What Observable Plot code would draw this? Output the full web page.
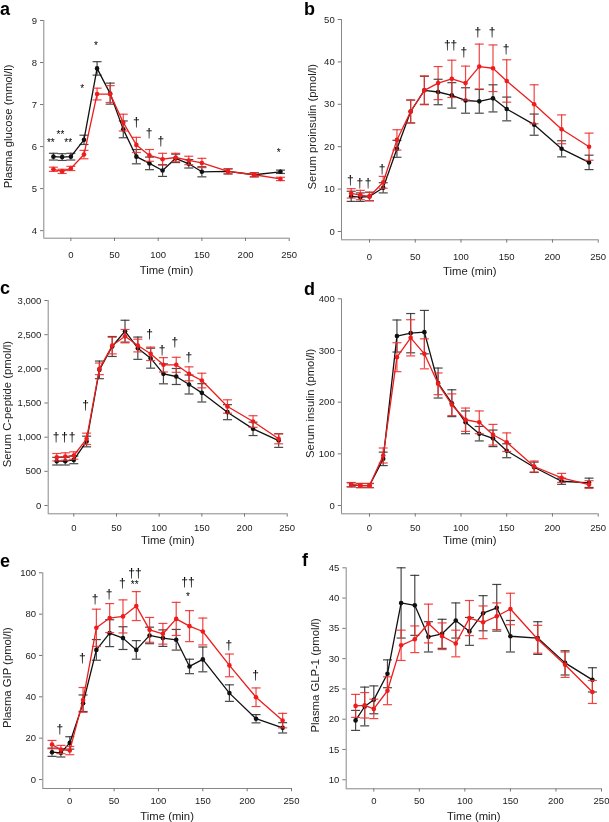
<!DOCTYPE html>
<html>
<head>
<meta charset="utf-8">
<script src="https://cdn.jsdelivr.net/npm/d3@7"></script>
<script src="https://cdn.jsdelivr.net/npm/@observablehq/plot@0.6"></script>
<style>
  body { margin: 0; background: #fff; }
  #fig { position: relative; width: 609px; height: 822px; font-family: "Liberation Sans", Arial, sans-serif; background: #fff; overflow: hidden; }
  .letter { position: absolute; font-weight: bold; font-size: 18px; line-height: 1; color: #000; }
  svg { will-change: transform; }
</style>
</head>
<body>
<div id="fig"></div>
<script>
// ---- time points (min) ----
const time = [-20, -10, 0, 15, 30, 45, 60, 75, 90, 105, 120, 135, 150, 180, 210, 240];
const xTicks = [0, 50, 100, 150, 200, 250];

// ---- a: plasma glucose (mmol/l) ----
const glucoseBlack    = [5.76, 5.75, 5.76, 6.16, 7.86, 7.26, 6.41, 5.76, 5.60, 5.43, 5.72, 5.59, 5.40, 5.41, 5.33, 5.40];
const glucoseBlackErr = [0.08, 0.08, 0.08, 0.11, 0.16, 0.25, 0.20, 0.17, 0.15, 0.14, 0.10, 0.10, 0.12, 0.06, 0.05, 0.04];
const glucoseRed      = [5.46, 5.41, 5.48, 5.81, 7.25, 7.25, 6.57, 6.04, 5.79, 5.70, 5.74, 5.67, 5.61, 5.41, 5.33, 5.23];
const glucoseRedErr   = [0.05, 0.05, 0.05, 0.10, 0.14, 0.20, 0.20, 0.18, 0.14, 0.14, 0.10, 0.10, 0.11, 0.06, 0.05, 0.04];
const glucoseTicks = [4, 5, 6, 7, 8, 9];
const glucoseMarks = [
  {t: -23, y: 6.15, label: "**"}, {t: -12, y: 6.35, label: "**"}, {t: -3, y: 6.15, label: "**"},
  {t: 13, y: 7.45, label: "*"}, {t: 28.6, y: 8.46, label: "*"},
  {t: 75, y: 6.57, label: "†"}, {t: 89.6, y: 6.33, label: "†"}, {t: 103, y: 6.13, label: "†"},
  {t: 238, y: 5.93, label: "*"}
];

// ---- b: serum proinsulin (pmol/l) ----
const proinsulinBlack    = [8.3, 8.1, 8.25, 10.3, 19.5, 28.3, 33.3, 32.9, 32.1, 30.9, 30.7, 31.4, 28.9, 25.2, 19.5, 16.3];
const proinsulinBlackErr = [1.2, 1.0, 1.0, 1.2, 2.0, 2.7, 3.3, 3.0, 3.0, 3.0, 2.8, 3.2, 2.8, 2.5, 1.9, 1.7];
const proinsulinRed      = [9.0, 8.6, 8.25, 11.6, 21.6, 28.3, 33.3, 35.0, 36.0, 35.0, 38.9, 38.5, 35.5, 30.0, 24.1, 20.0];
const proinsulinRedErr   = [1.1, 1.1, 1.0, 1.4, 2.4, 2.7, 3.4, 3.9, 4.4, 4.0, 5.3, 5.5, 5.0, 4.6, 3.4, 3.2];
const proinsulinTicks = [0, 10, 20, 30, 40, 50];
const proinsulinMarks = [
  {t: -20.8, y: 12.0, label: "†"}, {t: -10.6, y: 11.4, label: "†"}, {t: -1.5, y: 11.4, label: "†"},
  {t: 13.8, y: 14.8, label: "†"}, {t: 88.6, y: 44.0, label: "††"}, {t: 103, y: 42.3, label: "†"},
  {t: 118.4, y: 47.0, label: "†"}, {t: 134.1, y: 47.0, label: "†"}, {t: 149.4, y: 43.1, label: "†"}
];

// ---- c: serum C-peptide (pmol/l) ----
const cpeptideBlack    = [649, 649, 668, 937, 1985, 2327, 2551, 2302, 2156, 1927, 1888, 1771, 1649, 1366, 1122, 951];
const cpeptideBlackErr = [56, 56, 56, 78, 129, 146, 160, 163, 146, 146, 117, 139, 134, 110, 98, 100];
const cpeptideRed      = [707, 717, 732, 976, 2000, 2341, 2478, 2341, 2220, 2059, 2059, 1927, 1829, 1449, 1229, 976];
const cpeptideRedErr   = [54, 54, 54, 83, 85, 122, 98, 93, 98, 105, 110, 102, 107, 98, 85, 73];
const cpeptideTicks = [0, 500, 1000, 1500, 2000, 2500, 3000];
const cpeptideMarks = [
  {t: -20.7, y: 1000, label: "†"}, {t: -10.9, y: 1000, label: "†"}, {t: -2, y: 1000, label: "†"},
  {t: 13.7, y: 1473, label: "†"}, {t: 88.7, y: 2512, label: "†"}, {t: 103.5, y: 2278, label: "†"},
  {t: 118.4, y: 2390, label: "†"}, {t: 134.8, y: 2171, label: "†"}
];

// ---- d: serum insulin (pmol/l) ----
const insulinBlack    = [40, 38.7, 38.7, 90.3, 328, 333.5, 335.5, 237, 198, 161, 139, 130, 106, 74, 47, 44];
const insulinBlackErr = [4, 4, 4, 13, 31, 38, 42, 29, 26, 22, 14, 16, 13.5, 10, 6, 9];
const insulinRed      = [40.6, 38.7, 38.7, 96.8, 287, 324.5, 293.5, 235.5, 195, 166, 161, 137, 122.5, 75.5, 53.5, 40.6];
const insulinRedErr   = [4, 4, 4, 14.5, 28, 35, 29, 21, 21, 22.6, 22, 20, 18, 10.6, 8.7, 7.4];
const insulinTicks = [0, 100, 200, 300, 400];
const insulinMarks = [];

// ---- e: plasma GIP (pmol/l) ----
const gipBlack    = [13.2, 12.9, 17.7, 36.9, 62.7, 70.8, 68.4, 62.7, 69.7, 68.4, 67.6, 54.7, 58.1, 41.8, 29.4, 25.0];
const gipBlackErr = [2, 2, 3, 4, 5, 6.5, 5.5, 4.5, 4, 4, 5, 3.5, 6, 4, 2, 2.5];
const gipRed      = [16.9, 14.5, 14.0, 38.5, 73.4, 78.1, 78.9, 83.9, 72.4, 70.5, 77.7, 74.2, 71.6, 55.2, 39.8, 28.5];
const gipRedErr   = [2, 2, 2, 6, 9, 7, 8, 7, 6, 5, 8, 7.5, 6.5, 5.5, 4.5, 3.5];
const gipTicks = [0, 20, 40, 60, 80, 100];
const gipMarks = [
  {t: -11.3, y: 24.5, label: "†"}, {t: 14.3, y: 58.9, label: "†"}, {t: 28.5, y: 87.4, label: "†"},
  {t: 44.3, y: 89.5, label: "†"}, {t: 59.3, y: 95, label: "†"}, {t: 73.6, y: 100, label: "††"},
  {t: 73.2, y: 95.5, label: "**"}, {t: 133.3, y: 95.5, label: "††"}, {t: 133.3, y: 89.8, label: "*"},
  {t: 179.4, y: 64.8, label: "†"}, {t: 209.5, y: 50.3, label: "†"}
];

// ---- f: plasma GLP-1 (pmol/l) ----
const glp1Black    = [19.8, 22.1, 23.2, 27.5, 39.2, 38.8, 33.6, 34.1, 36.3, 34.5, 37.5, 38.4, 33.7, 33.4, 29.3, 26.5];
const glp1BlackErr = [1.65, 3.2, 2.3, 2.3, 5.8, 4.95, 2.5, 2.4, 2.9, 2.3, 2.9, 3.85, 2.6, 2.7, 2.0, 2.0];
const glp1Red      = [22.2, 22.3, 21.7, 24.7, 32.2, 33.2, 35.8, 33.7, 32.5, 36.7, 36.0, 37.0, 38.2, 33.2, 29.0, 24.5];
const glp1RedErr   = [1.9, 2.1, 1.6, 2.3, 2.5, 2.2, 3.2, 2.2, 2.2, 2.9, 2.7, 2.2, 2.6, 2.3, 2.1, 1.9];
const glp1Ticks = [10, 15, 20, 25, 30, 35, 40, 45];
const glp1Marks = [];

// ---- panel layout ----
const panels = [
  {letter: "a", ylabel: "Plasma glucose (mmol/l)", black: glucoseBlack, blackErr: glucoseBlackErr, red: glucoseRed, redErr: glucoseRedErr,
   yTicks: glucoseTicks, marks: glucoseMarks, fmt: d3.format("d"),
   left: 0, top: 0, width: 300, height: 270, mL: 43.3, mR: 11.3, mT: 20, mB: 32.3,
   xDomain: [-31, 250], yDomain: [3.82, 9], xPad: 10, titleOff: 32, ylabX: 7.5, letterPos: [0, 0]},
  {letter: "b", ylabel: "Serum proinsulin (pmol/l)", black: proinsulinBlack, blackErr: proinsulinBlackErr, red: proinsulinRed, redErr: proinsulinRedErr,
   yTicks: proinsulinTicks, marks: proinsulinMarks, fmt: d3.format("d"),
   left: 300, top: 0, width: 309, height: 270, mL: 41, mR: 11.3, mT: 19, mB: 30.7,
   xDomain: [-30.6, 250], yDomain: [-1.96, 50], xPad: 10, titleOff: 32, ylabX: 12, letterPos: [304, 0]},
  {letter: "c", ylabel: "Serum C-peptide (pmol/l)", black: cpeptideBlack, blackErr: cpeptideBlackErr, red: cpeptideRed, redErr: cpeptideRedErr,
   yTicks: cpeptideTicks, marks: cpeptideMarks, fmt: d3.format(","),
   left: 0, top: 270, width: 300, height: 270, mL: 47.7, mR: 13.3, mT: 30, mB: 26.7,
   xDomain: [-30, 250], yDomain: [-121, 3000], xPad: 6.7, titleOff: 27, ylabX: 7, letterPos: [0, 279]},
  {letter: "d", ylabel: "Serum insulin (pmol/l)", black: insulinBlack, blackErr: insulinBlackErr, red: insulinRed, redErr: insulinRedErr,
   yTicks: insulinTicks, marks: insulinMarks, fmt: d3.format("d"),
   left: 300, top: 270, width: 309, height: 270, mL: 41, mR: 11.3, mT: 28.3, mB: 26.7,
   xDomain: [-30.6, 250], yDomain: [-16, 400], xPad: 6.7, titleOff: 27, ylabX: 10, letterPos: [304, 280]},
  {letter: "e", ylabel: "Plasma GIP (pmol/l)", black: gipBlack, blackErr: gipBlackErr, red: gipRed, redErr: gipRedErr,
   yTicks: gipTicks, marks: gipMarks, fmt: d3.format("d"),
   left: 0, top: 540, width: 300, height: 282, mL: 42.3, mR: 9, mT: 32.3, mB: 34,
   xDomain: [-30.4, 250], yDomain: [-4.35, 100], xPad: 5.4, titleOff: 28, ylabX: 7, letterPos: [0, 552]},
  {letter: "f", ylabel: "Plasma GLP-1 (pmol/l)", black: glp1Black, blackErr: glp1BlackErr, red: glp1Red, redErr: glp1RedErr,
   yTicks: glp1Ticks, marks: glp1Marks, fmt: d3.format("d"),
   left: 300, top: 540, width: 309, height: 282, mL: 45.7, mR: 8, mT: 27.3, mB: 33.7,
   xDomain: [-30.3, 250], yDomain: [8.51, 45], xPad: 5.4, titleOff: 28, ylabX: 15, letterPos: [302, 551]}
];

const BLACK = "#111111", BLACK_ERR = "#333333";
const RED = "#ee1c1c", RED_ERR = "#f03030";
const capSymbol = { draw(ctx) { ctx.moveTo(-4.5, 0); ctx.lineTo(4.5, 0); } };

function series(vals, errs, color, ecolor) {
  const d = time.map((t, i) => ({t, v: vals[i], e: errs[i]}));
  return [
    Plot.ruleX(d, {x: "t", y1: r => r.v - r.e, y2: r => r.v + r.e, stroke: ecolor, strokeWidth: 1.2, strokeOpacity: 0.9}),
    Plot.dot(d, {x: "t", y: r => r.v + r.e, symbol: capSymbol, stroke: ecolor, fill: "none", strokeWidth: 1.2, strokeOpacity: 0.9}),
    Plot.dot(d, {x: "t", y: r => r.v - r.e, symbol: capSymbol, stroke: ecolor, fill: "none", strokeWidth: 1.2, strokeOpacity: 0.9}),
    Plot.line(d, {x: "t", y: "v", stroke: color, strokeWidth: 1.3}),
    Plot.dot(d, {x: "t", y: "v", fill: color, r: 2.3})
  ];
}

const fig = document.getElementById("fig");
for (const p of panels) {
  const daggers = p.marks.filter(m => !m.label.includes("*"));
  const stars = p.marks.filter(m => m.label.includes("*"));
  const svg = Plot.plot({
    width: p.width,
    height: p.height,
    marginLeft: p.mL, marginRight: p.mR, marginTop: p.mT, marginBottom: p.mB,
    x: {domain: p.xDomain, label: null},
    y: {domain: p.yDomain, label: null},
    style: {fontFamily: "'Liberation Sans', Arial, sans-serif", fontSize: "9.5px", background: "transparent", overflow: "visible", color: "#222"},
    marks: [
      Plot.ruleX([p.xDomain[0]], {y1: p.yDomain[0], y2: p.yDomain[1], stroke: "#888", strokeWidth: 1}),
      Plot.ruleY([p.yDomain[0]], {x1: p.xDomain[0], x2: p.xDomain[1], stroke: "#888", strokeWidth: 1}),
      Plot.axisY({ticks: p.yTicks, tickFormat: p.fmt, tickSize: 3.3, tickPadding: 3.5, stroke: "#777", fill: "#222", label: null, fontSize: 9.5}),
      Plot.axisX({ticks: xTicks, tickFormat: d3.format("d"), tickSize: 3.3, tickPadding: p.xPad, stroke: "#777", fill: "#222", label: null, fontSize: 9.5}),
      Plot.text([p.ylabel], {text: d => d, frameAnchor: "left", textAnchor: "middle", lineAnchor: "middle", rotate: -90, dx: p.ylabX - p.mL, dy: -3, fontSize: 11.3, fill: "#222"}),
      Plot.text(["Time (min)"], {text: d => d, frameAnchor: "bottom", textAnchor: "middle", lineAnchor: "middle", dy: p.titleOff, fontSize: 11.3, fill: "#222"}),
      ...series(p.black, p.blackErr, BLACK, BLACK_ERR),
      ...series(p.red, p.redErr, RED, RED_ERR),
      Plot.text(daggers, {x: "t", y: "y", text: "label", fontSize: 12, fill: "black"}),
      Plot.text(stars, {x: "t", y: "y", text: "label", fontSize: 10, dy: 3, fill: "black"})
    ]
  });
  svg.style.position = "absolute";
  svg.style.left = p.left + "px";
  svg.style.top = p.top + "px";
  svg.style.maxWidth = "none";
  fig.appendChild(svg);

  const lt = document.createElement("div");
  lt.className = "letter";
  lt.textContent = p.letter;
  lt.style.left = p.letterPos[0] + "px";
  lt.style.top = p.letterPos[1] + "px";
  fig.appendChild(lt);
}
</script>
</body>
</html>
